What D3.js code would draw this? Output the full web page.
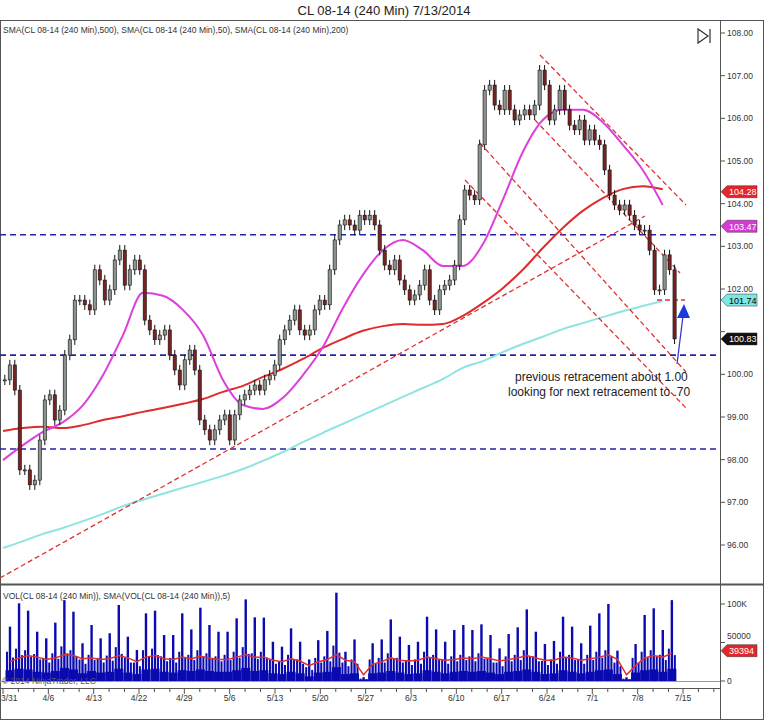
<!DOCTYPE html>
<html><head><meta charset="utf-8">
<script src="https://cdn.jsdelivr.net/npm/d3@7"></script>
<style>body{margin:0;background:#fff}svg{display:block;font-family:Arial,"Liberation Sans",sans-serif}</style>
</head><body><svg id="c" width="768" height="722"></svg>
<script>
// ---- data ----
const closes=[99.87,100.22,99.63,97.76,97.76,97.41,97.52,98.46,99.40,99.52,98.93,99.16,100.45,100.81,101.74,101.74,101.63,101.51,102.45,102.21,101.74,101.98,102.68,102.91,102.09,102.45,102.68,102.45,101.27,101.04,100.81,100.92,101.04,100.45,100.10,99.75,100.34,100.57,100.10,98.93,98.70,98.46,98.70,98.93,99.05,98.46,99.05,99.40,99.52,99.63,99.75,99.63,99.87,99.98,100.22,100.81,101.04,101.27,101.51,101.04,100.92,101.04,101.51,101.74,101.63,102.45,103.15,103.50,103.62,103.50,103.38,103.73,103.62,103.73,103.50,102.91,102.56,102.45,102.68,102.21,101.98,101.74,101.86,102.09,102.45,101.74,101.51,101.98,102.09,102.21,102.56,103.62,104.32,104.20,104.09,105.38,106.66,106.78,106.31,106.20,106.66,106.20,105.96,106.08,106.20,106.08,106.31,107.13,106.78,105.96,106.20,106.66,106.20,105.84,105.73,105.96,105.49,105.73,105.49,105.38,104.79,104.20,103.97,103.85,103.97,103.73,103.50,103.38,103.38,102.91,101.98,101.98,102.80,102.45,100.83];
const sma50=[97.99,98.34,98.65,98.88,99.28,99.98,100.92,101.91,101.84,101.51,100.92,99.87,99.28,99.19,99.45,99.98,100.64,101.55,102.33,102.91,103.15,102.91,102.54,102.54,103.05,104.09,105.21,105.96,106.20,106.20,105.91,105.38,104.79,103.97];
const sma200=[98.67,98.74,98.77,98.74,98.81,98.93,99.02,99.12,99.21,99.31,99.42,99.59,99.73,99.94,100.13,100.36,100.62,100.83,101.02,101.13,101.18,101.16,101.18,101.37,101.67,102.02,102.45,102.96,103.43,103.83,104.13,104.34,104.41,104.34];
const sma500=[95.93,96.09,96.26,96.40,96.56,96.73,96.91,97.06,97.20,97.34,97.48,97.62,97.78,97.97,98.18,98.41,98.63,98.84,99.05,99.26,99.47,99.68,99.89,100.15,100.31,100.52,100.71,100.88,101.06,101.20,101.34,101.48,101.60,101.72];
const volPeak=[70.6,100.9,91.3,64,55.4,75.8,105,90,49,72.7,55.4,62,98.7,57.6,40.3,87.9,91.3,59.7,59.7,87.9,67,95.2,72.7,64,64,81.4,106,82.7,82.3,51,44.6,68.4,51,28,53,65,114.7,38,54,5,49,54,80,57.6,46.8,51,83.5,67,51,66.2,72.7,66.2,73.6,59.7,42.4,61,69.7,93,64,48,52,83.5,70.6,49,71.9,87.9,100,39.4,4.8,48,85.7,94.4,66.2,105];
const volMid=[38,42,40,35,30,36,45,40,28,34,30,33,44,30,24,40,42,32,30,38,34,40,36,32,34,38,44,36,38,28,26,34,28,18,30,32,46,24,28,3,28,30,36,30,26,28,38,34,28,32,34,32,36,30,24,32,34,40,32,26,28,38,34,28,34,38,40,24,3,30,38,40,34,42];
const volLow=[14,16,15,12,11,13,17,15,10,13,11,12,16,11,9,15,16,12,11,14,13,15,13,12,12,14,17,13,14,10,9,12,10,6,11,12,18,9,10,2,10,11,13,11,9,10,14,12,10,12,13,12,13,11,9,12,13,15,12,9,10,14,12,10,12,14,15,9,2,11,14,15,12,16];
const volSma=[25,30,33,31,28,30,34,33,29,30,28,29,33,30,25,31,33,29,28,31,29,32,30,28,28,31,34,31,31,27,25,29,26,20,25,28,34,27,25,8,22,25,30,27,26,27,31,29,27,28,30,29,31,29,26,28,30,33,30,27,27,31,30,27,29,31,34,28,8,20,30,33,31,36];
const dateLabels=["3/31","4/6","4/13","4/22","4/29","5/6","5/13","5/20","5/27","6/3","6/10","6/17","6/24","7/1","7/8","7/15"];
const priceTicks=[96,97,98,99,100,101,102,103,104,105,106,107,108];
const hLevels=[103.27,100.45,98.25];
const tags=[{v:104.28,c:"#e3262b",t:"104.28",fc:"#fff"},{v:103.47,c:"#d63ad6",t:"103.47",fc:"#fff"},{v:101.74,c:"#7fe6e6",t:"101.74",fc:"#000"},{v:100.83,c:"#111",t:"100.83",fc:"#fff"}];

// ---- scales ----
const svg=d3.select("#c");
const x=d3.scaleLinear().domain([0,75]).range([3,683]);
const y=d3.scaleLinear().domain([96,108]).range([545,33]);
const yv=d3.scaleLinear().domain([0,100]).range([681,604]);
const barsPerDay=1.814, barDay=i=>0.2+i/barsPerDay, smaDay=j=>j*2.205, volDay=k=>k+0.77;

// frame
svg.append("text").attr("x",384).attr("y",15).attr("text-anchor","middle").attr("font-size",13).attr("fill","#222").text("CL 08-14 (240 Min)  7/13/2014");
svg.append("rect").attr("x",0.5).attr("y",20.5).attr("width",763).attr("height",699).attr("fill","none").attr("stroke","#555");
svg.append("line").attr("x1",0).attr("x2",764).attr("y1",584.5).attr("y2",584.5).attr("stroke","#555").attr("stroke-width",2);
svg.append("line").attr("x1",720.5).attr("x2",720.5).attr("y1",20).attr("y2",720).attr("stroke","#555");
svg.append("text").attr("x",3).attr("y",33).attr("font-size",8.5).attr("fill","#333").text("SMA(CL 08-14 (240 Min),500), SMA(CL 08-14 (240 Min),50), SMA(CL 08-14 (240 Min),200)");
svg.append("path").attr("d","M698,29 L698,43 L708,36 Z M710,29 L710,43").attr("fill","none").attr("stroke","#333").attr("stroke-width",1.2);

const g=svg.append("g");
hLevels.forEach(v=>g.append("line").attr("x1",0).attr("x2",720).attr("y1",y(v)).attr("y2",y(v)).attr("stroke","#2424a8").attr("stroke-width",1.6).attr("stroke-dasharray","6,4"));

const line=d3.line().curve(d3.curveMonotoneX);
[[sma500,"#8fe3e3"],[sma200,"#e02b2b"],[sma50,"#dd3fdd"]].forEach(([a,c])=>{
  g.append("path").attr("d",line(a.map((v,j)=>[x(smaDay(j)),y(v)]))).attr("fill","none").attr("stroke",c).attr("stroke-width",2);
});

const tl=[[[0,578],[645,216]],[[540,55],[686,205]],[[535,120],[680,273]],[[480,143],[686,372]],[[465,180],[686,408]],[[657,300],[685,300]]];
tl.forEach(([a,b])=>g.append("line").attr("x1",a[0]).attr("y1",a[1]).attr("x2",b[0]).attr("y2",b[1]).attr("stroke","#e03030").attr("stroke-width",1.3).attr("stroke-dasharray","5,3"));

closes.forEach((c,i)=>{
  const o=i?closes[i-1]:c, xx=x(barDay(i));
  const hi=Math.max(o,c)+0.12, lo=Math.min(o,c)-0.12;
  g.append("line").attr("x1",xx).attr("x2",xx).attr("y1",y(hi)).attr("y2",y(lo)).attr("stroke","#111");
  g.append("rect").attr("x",xx-1.6).attr("width",3.2).attr("y",y(Math.max(o,c))).attr("height",Math.max(1,Math.abs(y(o)-y(c))))
   .attr("fill",c>=o?"#8a948e":"#7a2222").attr("stroke","#111").attr("stroke-width",0.6);
});

g.append("line").attr("x1",677).attr("y1",364).attr("x2",683).attr("y2",316).attr("stroke","#3333cc").attr("stroke-width",1.3);
g.append("path").attr("d","M677,318 L690,318 L684,304 Z").attr("fill","#1a3adb");
svg.append("text").attr("x",515).attr("y",381).attr("font-size",12).attr("fill","#222").text("previous retracement about 1.00");
svg.append("text").attr("x",508).attr("y",396).attr("font-size",12).attr("fill","#222").text("looking for next retracement to .70");

priceTicks.forEach(v=>{
  svg.append("line").attr("x1",720).attr("x2",725).attr("y1",y(v)).attr("y2",y(v)).attr("stroke","#555");
  if(v!==101) svg.append("text").attr("x",727).attr("y",y(v)+3).attr("font-size",8.5).attr("fill","#333").text(v.toFixed(2));
});
function tag(yy,c,t,fc){
  svg.append("path").attr("d",`M721,${yy} L727,${yy-6} L757,${yy-6} L757,${yy+6} L727,${yy+6} Z`).attr("fill",c).attr("stroke","#333").attr("stroke-width",0.5);
  svg.append("text").attr("x",729).attr("y",yy+3.5).attr("font-size",9).attr("fill",fc).text(t);
}
tags.forEach(t=>tag(y(t.v),t.c,t.t,t.fc));

svg.append("line").attr("x1",0).attr("x2",720).attr("y1",681.5).attr("y2",681.5).attr("stroke","#999");
const vg=svg.append("g");
volLow.forEach((v,k)=>{const xx=x(volDay(k));vg.append("rect").attr("x",xx-4.5).attr("width",9).attr("y",yv(v)).attr("height",681-yv(v)).attr("fill","#0a0ab0");});
volMid.forEach((v,k)=>{const xx=x(volDay(k));[-3,3].forEach(dx=>vg.append("rect").attr("x",xx+dx-1).attr("width",2).attr("y",yv(dx<0?v:v*0.8)).attr("height",681-yv(dx<0?v:v*0.8)).attr("fill","#0a0ab0"));});
volPeak.forEach((v,k)=>{const xx=x(volDay(k));vg.append("rect").attr("x",xx-1.2).attr("width",2.4).attr("y",yv(v)).attr("height",681-yv(v)).attr("fill","#0a0ab0");});
vg.append("path").attr("d",d3.line()(volSma.map((v,k)=>[x(volDay(k)),yv(v)]))).attr("fill","none").attr("stroke","#e03030").attr("stroke-width",1.5);
svg.append("text").attr("x",3).attr("y",599).attr("font-size",8.5).attr("fill","#333").text("VOL(CL 08-14 (240 Min)), SMA(VOL(CL 08-14 (240 Min)),5)");
svg.append("text").attr("x",2).attr("y",684).attr("font-size",8.5).attr("fill","#555").text("© 2014 NinjaTrader, LLC");
[[100,"100K"],[50,"50000"],[0,"0"]].forEach(([v,t])=>{
  svg.append("line").attr("x1",720).attr("x2",725).attr("y1",yv(v)).attr("y2",yv(v)).attr("stroke","#555");
  svg.append("text").attr("x",727).attr("y",yv(v)+(v===50?-4:3)).attr("font-size",8.5).attr("fill","#333").text(t);
});
tag(yv(39.394),"#e3262b","39394","#fff");

svg.append("line").attr("x1",0).attr("x2",720).attr("y1",688.5).attr("y2",688.5).attr("stroke","#555");
dateLabels.forEach((t,i)=>{
  const xx=x(i*5);
  svg.append("line").attr("x1",xx).attr("x2",xx).attr("y1",688).attr("y2",694).attr("stroke","#555");
  [1.7,3.4].forEach(d=>{const xm=x(i*5+d);if(xm<718)svg.append("line").attr("x1",xm).attr("x2",xm).attr("y1",688).attr("y2",692).attr("stroke","#555");});
  svg.append("text").attr("x",i===0?1:xx).attr("y",701).attr("text-anchor",i===0?"start":"middle").attr("font-size",8.5).attr("fill","#333").text(t);
});
</script></body></html>
